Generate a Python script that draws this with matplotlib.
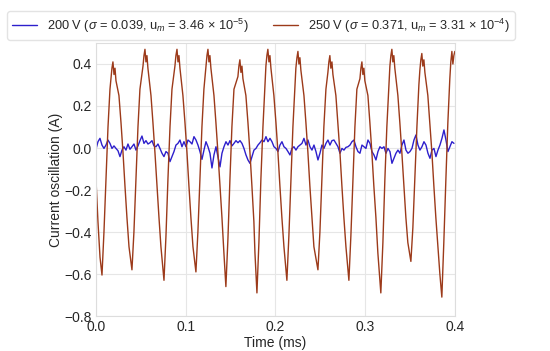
import numpy as np
import matplotlib
matplotlib.use("Agg")
import matplotlib.pyplot as plt
import seaborn as sns

# 200 V trace, sampled every ~0.0022 ms
blue_v = [
    -0.006, 0.030, 0.046, 0.014, -0.002, 0.014, 0.038, 0.022, -0.002, 0.010,
    -0.002, -0.013, -0.041, -0.010, 0.006, -0.010, 0.019, -0.006, 0.006, 0.019,
    -0.010, 0.010, 0.035, 0.057, 0.022, 0.035, 0.019, 0.025, 0.035, 0.010,
    0.006, 0.019, -0.002, -0.025, -0.041, -0.017, -0.025, -0.065, -0.041, -0.017,
    0.014, 0.022, 0.038, 0.006, 0.030, 0.006,
    0.038, 0.030, 0.019, 0.054, 0.038, 0.014, -0.017, -0.054, -0.010, 0.030,
    0.006, -0.025, -0.095, -0.033, 0.006, -0.041, -0.090, -0.025, 0.006, 0.030,
    0.014, 0.035, 0.010, 0.022, 0.035, 0.025, 0.035, 0.022, -0.002, -0.033,
    -0.057, -0.073, -0.041, -0.010, -0.002, 0.014, 0.025, 0.038, 0.030, 0.054,
    0.030, 0.046, 0.030, 0.006, -0.002,
    -0.017, 0.014, 0.030, 0.006, -0.002, -0.017, -0.033, -0.002, 0.006, -0.010,
    0.006, 0.014, 0.022, 0.046, 0.014, 0.038, 0.006, -0.010, 0.014, -0.017,
    -0.057, -0.025, 0.014, -0.002, 0.022, 0.038, 0.014, 0.035, 0.038, 0.022,
    0.006, -0.025, -0.002, -0.010, 0.003, 0.006, 0.014, 0.030, 0.038, 0.006,
    -0.017, -0.025, 0.014, 0.006, -0.002,
    0.038, 0.022, -0.017, -0.033, -0.057, -0.017, 0.006, -0.002, 0.006, -0.025,
    -0.002, -0.017, -0.073, -0.049, -0.025, -0.010, -0.025, 0.014, 0.038, -0.010,
    -0.025, -0.017, -0.002, 0.038, 0.062, 0.014, -0.010, 0.006, 0.030, 0.014,
    -0.025, -0.049, -0.010, -0.002, -0.041, -0.010, 0.014, 0.046, 0.086, 0.038,
    -0.017, 0.006, 0.030, 0.022,
]
blue_t = np.linspace(0, 0.399, len(blue_v))

# 250 V trace
red_t = [
    0.0, 0.0022, 0.0045,
    0.0067, 0.0089, 0.0111, 0.0134, 0.0156, 0.0167, 0.0178, 0.0189, 0.0201, 0.0212, 0.0223, 0.0256, 0.0279, 0.0301, 0.0323, 0.0345, 0.0368,
    0.0401, 0.0423, 0.0446, 0.0468, 0.0490, 0.0524, 0.0535, 0.0546, 0.0557, 0.0568, 0.0579, 0.0613, 0.0635, 0.0657, 0.0680, 0.0702, 0.0724,
    0.0758, 0.0780, 0.0802, 0.0825, 0.0847, 0.0880, 0.0891, 0.0903, 0.0914, 0.0925, 0.0936, 0.0969, 0.0992, 0.1014, 0.1036, 0.1058, 0.1081,
    0.1114, 0.1136, 0.1159, 0.1181, 0.1203, 0.1226, 0.1237, 0.1248, 0.1259, 0.1270, 0.1281, 0.1315, 0.1337, 0.1359, 0.1382, 0.1404, 0.1426,
    0.1448, 0.1471, 0.1493, 0.1515, 0.1538, 0.1582, 0.1593, 0.1604, 0.1616, 0.1627, 0.1638, 0.1671, 0.1694, 0.1716, 0.1738, 0.1760, 0.1772,
    0.1794, 0.1816, 0.1838, 0.1861, 0.1883, 0.1894, 0.1905, 0.1916, 0.1928, 0.1939, 0.1950, 0.1983, 0.2006, 0.2028, 0.2050, 0.2072, 0.2095,
    0.2128, 0.2150, 0.2173, 0.2195, 0.2217, 0.2228, 0.2240, 0.2251, 0.2262, 0.2273, 0.2284, 0.2318, 0.2340, 0.2362, 0.2384, 0.2407, 0.2429,
    0.2474, 0.2496, 0.2518, 0.2540, 0.2563, 0.2585, 0.2596, 0.2607, 0.2618, 0.2630, 0.2641, 0.2674, 0.2696, 0.2719, 0.2741, 0.2763, 0.2786,
    0.2819, 0.2841, 0.2864, 0.2886, 0.2908, 0.2942, 0.2953, 0.2964, 0.2975, 0.2986, 0.2997, 0.3031, 0.3053, 0.3075, 0.3097, 0.3120, 0.3142,
    0.3175, 0.3198, 0.3220, 0.3242, 0.3265, 0.3276, 0.3287, 0.3298, 0.3309, 0.3320, 0.3331, 0.3365, 0.3387, 0.3409, 0.3432, 0.3454, 0.3476,
    0.3510, 0.3532, 0.3554, 0.3577, 0.3599, 0.3610, 0.3621, 0.3632, 0.3643, 0.3655, 0.3666, 0.3699, 0.3721, 0.3744, 0.3766, 0.3788, 0.3811, 0.3833,
    0.3855, 0.3877, 0.3900, 0.3922, 0.3944, 0.3955, 0.3967, 0.3978, 0.3989, 0.4000,
]
red_v = [
    -0.15, -0.35, -0.52,
    -0.605, -0.40, -0.15, 0.10, 0.28, 0.33, 0.38, 0.41, 0.35, 0.38, 0.32, 0.25, 0.12, -0.02, -0.18, -0.33, -0.47,
    -0.58, -0.40, -0.15, 0.10, 0.28, 0.39, 0.44, 0.47, 0.41, 0.44, 0.38, 0.25, 0.12, -0.02, -0.18, -0.33, -0.47,
    -0.63, -0.42, -0.15, 0.10, 0.28, 0.39, 0.44, 0.47, 0.41, 0.44, 0.38, 0.25, 0.12, -0.02, -0.18, -0.33, -0.47,
    -0.59, -0.40, -0.15, 0.10, 0.28, 0.39, 0.44, 0.47, 0.41, 0.44, 0.38, 0.25, 0.12, -0.02, -0.18, -0.33, -0.50,
    -0.66, -0.43, -0.15, 0.10, 0.28, 0.34, 0.39, 0.42, 0.36, 0.39, 0.33, 0.25, 0.12, -0.02, -0.18, -0.35, -0.50,
    -0.69, -0.45, -0.15, 0.10, 0.30, 0.39, 0.44, 0.47, 0.41, 0.44, 0.38, 0.25, 0.12, -0.02, -0.18, -0.33, -0.47,
    -0.63, -0.42, -0.15, 0.10, 0.28, 0.38, 0.43, 0.46, 0.40, 0.43, 0.37, 0.25, 0.12, -0.02, -0.18, -0.33, -0.47,
    -0.58, -0.40, -0.15, 0.10, 0.28, 0.36, 0.41, 0.44, 0.38, 0.41, 0.35, 0.25, 0.12, -0.02, -0.18, -0.33, -0.47,
    -0.63, -0.42, -0.15, 0.10, 0.28, 0.33, 0.38, 0.41, 0.35, 0.38, 0.32, 0.25, 0.12, -0.02, -0.18, -0.33, -0.50,
    -0.69, -0.45, -0.15, 0.10, 0.30, 0.39, 0.44, 0.47, 0.41, 0.44, 0.38, 0.25, 0.12, -0.02, -0.18, -0.33, -0.45,
    -0.54, -0.38, -0.15, 0.10, 0.30, 0.37, 0.42, 0.45, 0.39, 0.42, 0.36, 0.25, 0.12, -0.02, -0.18, -0.33, -0.47, -0.60,
    -0.71, -0.45, -0.15, 0.12, 0.33, 0.41, 0.46, 0.40, 0.44, 0.46,
]

labels = [r"200 V ($\sigma$ = 0.039, u$_m$ = 3.46 × 10$^{-5}$)",
          r"250 V ($\sigma$ = 0.371, u$_m$ = 3.31 × 10$^{-4}$)"]
colors = ["#2d1fcc", "#9c3a1a"]

sns.set_style("whitegrid")
plt.rcParams['font.family'] = ['Liberation Sans', 'DejaVu Sans']
plt.rcParams['mathtext.fontset'] = 'custom'
plt.rcParams['mathtext.rm'] = 'Liberation Sans'
plt.rcParams['mathtext.it'] = 'Liberation Sans:italic'

fig = plt.figure(figsize=(5.5, 3.51), dpi=100)
ax = fig.add_axes([0.1745, 0.0997, 0.6525, 0.7778])

ax.plot(blue_t, blue_v, color=colors[0], lw=1.0, label=labels[0])
ax.plot(red_t, red_v, color=colors[1], lw=1.0, label=labels[1])

ax.set_xlim(0, 0.4)
ax.set_ylim(-0.8, 0.5)
ax.set_xticks([0.0, 0.1, 0.2, 0.3, 0.4])
ax.set_yticks([-0.8, -0.6, -0.4, -0.2, 0.0, 0.2, 0.4])
ax.tick_params(labelsize=10, length=0, pad=3)
ax.set_xlabel("Time (ms)", fontsize=10, labelpad=1)
ax.set_ylabel("Current oscillation (A)", fontsize=10, labelpad=1)
ax.grid(color="#e6e6e6", lw=0.8)
for s in ax.spines.values():
    s.set_color("#dddddd")

fig.legend(loc="center", bbox_to_anchor=(261 / 550, 1 - 25.5 / 351), ncol=2,
           fontsize=9.2, frameon=True, handlelength=1.95, columnspacing=1.9,
           handletextpad=0.78, borderpad=0.4, borderaxespad=0,
           edgecolor="#dddddd")

fig.savefig("out.png", dpi=100)
